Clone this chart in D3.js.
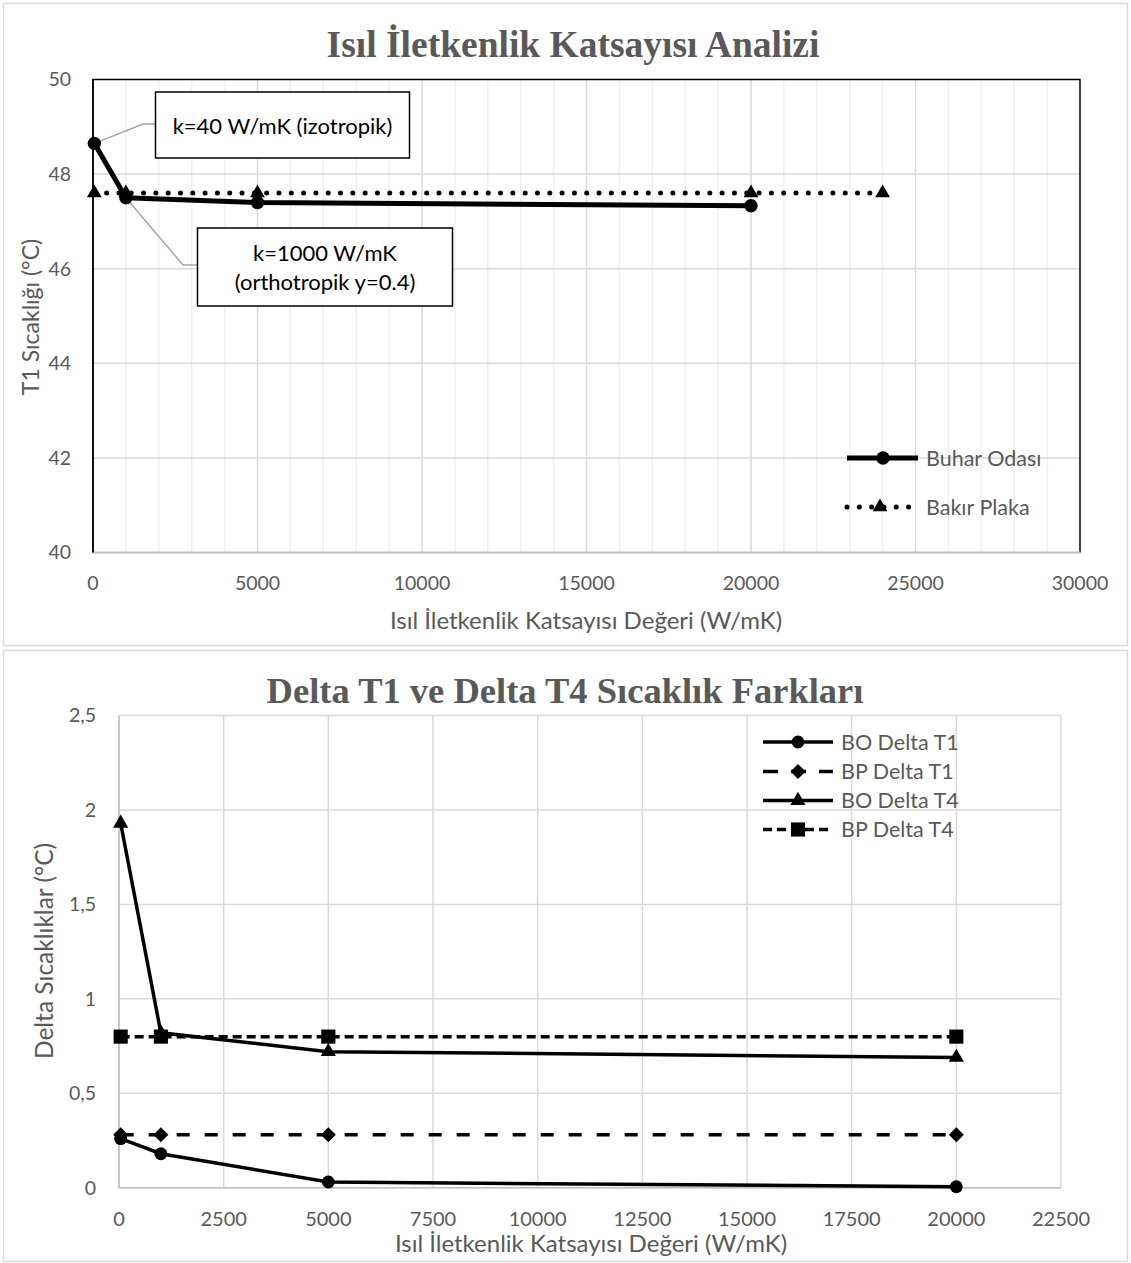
<!DOCTYPE html>
<html><head><meta charset="utf-8">
<script src="https://cdn.jsdelivr.net/npm/d3@7"></script>
<style>body{margin:0;background:#fff}</style>
</head><body>
<svg id="c" width="1131" height="1263" xmlns="http://www.w3.org/2000/svg"></svg>
<script>
// ---------- DATA ----------
const topTitle = "Isıl İletkenlik Katsayısı Analizi";
const topYTitle = "T1 Sıcaklığı (°C)";
const topXTitle = "Isıl İletkenlik Katsayısı Değeri (W/mK)";
const topXTicks = [0, 5000, 10000, 15000, 20000, 25000, 30000];
const topYTicks = [40, 42, 44, 46, 48, 50];
const buharX = [40, 1000, 5000, 20000];
const buharOdasi = [48.65, 47.5, 47.4, 47.33];
const bakirX = [40, 1000, 5000, 20000, 24000];
const bakirPlaka = [47.6, 47.6, 47.6, 47.6, 47.6];
const topSeriesNames = ["Buhar Odası", "Bakır Plaka"];
const annot1 = ["k=40 W/mK (izotropik)"];
const annot2 = ["k=1000 W/mK", "(orthotropik y=0.4)"];

const botTitle = "Delta T1 ve Delta T4 Sıcaklık Farkları";
const botYTitle = "Delta Sıcaklıklar (°C)";
const botXTitle = "Isıl İletkenlik Katsayısı Değeri (W/mK)";
const botXTicks = [0, 2500, 5000, 7500, 10000, 12500, 15000, 17500, 20000, 22500];
const botYTicks = [0, 0.5, 1, 1.5, 2, 2.5];
const botX = [40, 1000, 5000, 20000];
const boDeltaT1 = [0.26, 0.18, 0.03, 0.005];
const bpDeltaT1 = [0.28, 0.28, 0.28, 0.28];
const boDeltaT4 = [1.93, 0.82, 0.72, 0.69];
const bpDeltaT4 = [0.8, 0.8, 0.8, 0.8];
const botSeriesNames = ["BO Delta T1", "BP Delta T1", "BO Delta T4", "BP Delta T4"];

// ---------- SETUP ----------
const svg = d3.select("#c");
const SANS = "Lato, 'Open Sans', sans-serif";
const SERIF = "'Liberation Serif', 'DejaVu Serif', serif";
const GRAY_TXT = "#595959";
const trLocale = d3.formatLocale({decimal: ",", thousands: "", grouping: [3], currency: ["", ""]});
const fmtDec = trLocale.format("~g");
const TICK_FS = 19.5;

// outer frames
svg.append("rect").attr("x", 3.5).attr("y", 3.5).attr("width", 1124).attr("height", 642)
  .attr("fill", "#fff").attr("stroke", "#d9d9d9").attr("stroke-width", 1.5);
svg.append("rect").attr("x", 3.5).attr("y", 650.5).attr("width", 1124).attr("height", 611)
  .attr("fill", "#fff").attr("stroke", "#d9d9d9").attr("stroke-width", 1.5);

function sym(type, size) { return d3.symbol().type(type).size(size)(); }
const diamondPath = (r) => `M0,${-r}L${r},0L0,${r}L${-r},0Z`;

// ---------- TOP CHART ----------
(function(){
  const L = 93, R = 1080, T = 79.5, B = 552.5;
  const x = d3.scaleLinear().domain([0, 30000]).range([L, R]);
  const y = d3.scaleLinear().domain([40, 50]).range([B, T]);
  const g = svg.append("g");

  g.append("g").selectAll("line").data(d3.range(0, 30001, 1000).filter(v => v % 5000 !== 0))
    .join("line").attr("x1", d => x(d)).attr("x2", d => x(d)).attr("y1", T).attr("y2", B)
    .attr("stroke", "#f0f0f0").attr("stroke-width", 1.5);
  g.append("g").selectAll("line").data(topXTicks.slice(1, -1))
    .join("line").attr("x1", d => x(d)).attr("x2", d => x(d)).attr("y1", T).attr("y2", B)
    .attr("stroke", "#d9d9d9").attr("stroke-width", 1.5);
  g.append("g").selectAll("line").data(topYTicks.slice(1, -1))
    .join("line").attr("x1", L).attr("x2", R).attr("y1", d => y(d)).attr("y2", d => y(d))
    .attr("stroke", "#d9d9d9").attr("stroke-width", 1.5);
  g.append("path").attr("d", `M${L},${B}V${T}H${R}V${B}`).attr("fill", "none")
    .attr("stroke", "#000").attr("stroke-width", 1.5);
  g.append("line").attr("x1", L).attr("x2", R).attr("y1", B).attr("y2", B)
    .attr("stroke", "#bfbfbf").attr("stroke-width", 2);
  g.append("line").attr("x1", L).attr("x2", L).attr("y1", T).attr("y2", B)
    .attr("stroke", "#000").attr("stroke-width", 1.5);

  g.append("g").selectAll("text").data(topYTicks).join("text")
    .attr("x", L - 22).attr("y", d => y(d)).attr("dy", "0.35em").attr("text-anchor", "end")
    .attr("font-family", SANS).attr("font-size", TICK_FS).attr("fill", GRAY_TXT).text(d => d);
  g.append("g").selectAll("text").data(topXTicks).join("text")
    .attr("x", d => x(d)).attr("y", 583).attr("dy", "0.35em").attr("text-anchor", "middle")
    .attr("font-family", SANS).attr("font-size", TICK_FS).attr("fill", GRAY_TXT).text(d => d);

  svg.append("text").attr("x", 573).attr("y", 57).attr("text-anchor", "middle")
    .attr("font-family", SERIF).attr("font-weight", "bold").attr("font-size", 37.5)
    .attr("fill", GRAY_TXT).text(topTitle);
  svg.append("text").attr("x", 586).attr("y", 621).attr("dy", "0.35em").attr("text-anchor", "middle")
    .attr("font-family", SANS).attr("font-size", 24).attr("fill", GRAY_TXT).text(topXTitle);
  svg.append("text").attr("transform", "translate(31,317) rotate(-90)").attr("dy", "0.35em")
    .attr("text-anchor", "middle").attr("font-family", SANS).attr("font-size", 23)
    .attr("fill", GRAY_TXT).text(topYTitle);

  const bk = bakirX.map((v, i) => [v, bakirPlaka[i]]);
  const bo = buharX.map((v, i) => [v, buharOdasi[i]]);
  const line = d3.line().x(d => x(d[0])).y(d => y(d[1]));

  g.append("path").attr("d", `M${x(bo[0][0])},${y(bo[0][1])}L143,124H155`)
    .attr("fill", "none").attr("stroke", "#a6a6a6").attr("stroke-width", 1.5);
  g.append("path").attr("d", `M${x(bo[1][0])},${y(bo[1][1])}L183,265H197`)
    .attr("fill", "none").attr("stroke", "#a6a6a6").attr("stroke-width", 1.5);

  g.append("path").datum(bo).attr("d", line).attr("fill", "none").attr("stroke", "#000")
    .attr("stroke-width", 5).attr("stroke-linejoin", "round");
  g.append("path").datum(bk).attr("d", line).attr("fill", "none").attr("stroke", "#000")
    .attr("stroke-width", 5).attr("stroke-linecap", "round").attr("stroke-dasharray", "0.01 12.3");
  g.append("g").selectAll("path").data(bo).join("path")
    .attr("transform", d => `translate(${x(d[0])},${y(d[1])})`).attr("d", sym(d3.symbolCircle, 140));
  g.append("g").selectAll("path").data(bk).join("path")
    .attr("transform", d => `translate(${x(d[0])},${y(d[1])})`).attr("d", sym(d3.symbolTriangle, 95));

  function box(x0, y0, w, h, lines, cy, lh) {
    g.append("rect").attr("x", x0).attr("y", y0).attr("width", w).attr("height", h)
      .attr("fill", "#fff").attr("stroke", "#000").attr("stroke-width", 1.5);
    lines.forEach((t, i) => g.append("text").attr("x", x0 + w / 2).attr("y", cy + i * lh)
      .attr("dy", "0.35em").attr("text-anchor", "middle").attr("font-family", SANS)
      .attr("font-size", 22).attr("fill", "#000").text(t));
  }
  box(155.5, 92, 254, 66, annot1, 126, 0);
  box(197.5, 228, 255, 78, annot2, 253, 29);

  const lg = g.append("g");
  lg.append("line").attr("x1", 847).attr("x2", 918).attr("y1", 458).attr("y2", 458)
    .attr("stroke", "#000").attr("stroke-width", 5);
  lg.append("path").attr("transform", "translate(883,458)").attr("d", sym(d3.symbolCircle, 140));
  lg.append("line").attr("x1", 847).attr("x2", 918).attr("y1", 507).attr("y2", 507)
    .attr("stroke", "#000").attr("stroke-width", 5).attr("stroke-linecap", "round")
    .attr("stroke-dasharray", "0.01 12.3");
  lg.append("path").attr("transform", "translate(880,507)").attr("d", sym(d3.symbolTriangle, 95));
  [[458, topSeriesNames[0]], [507, topSeriesNames[1]]].forEach(([yy, t]) =>
    lg.append("text").attr("x", 926).attr("y", yy).attr("dy", "0.35em").attr("font-family", SANS)
      .attr("font-size", 21.5).attr("fill", GRAY_TXT).text(t));
})();

// ---------- BOTTOM CHART ----------
(function(){
  const L = 119, R = 1061, T = 715.6, B = 1187.7;
  const x = d3.scaleLinear().domain([0, 22500]).range([L, R]);
  const y = d3.scaleLinear().domain([0, 2.5]).range([B, T]);
  const g = svg.append("g");

  g.append("g").selectAll("line").data(botXTicks)
    .join("line").attr("x1", d => x(d)).attr("x2", d => x(d)).attr("y1", T).attr("y2", B)
    .attr("stroke", "#d9d9d9").attr("stroke-width", 1.5);
  g.append("g").selectAll("line").data(botYTicks)
    .join("line").attr("x1", L).attr("x2", R).attr("y1", d => y(d)).attr("y2", d => y(d))
    .attr("stroke", "#d9d9d9").attr("stroke-width", 1.5);
  g.append("line").attr("x1", L).attr("x2", L).attr("y1", T).attr("y2", B)
    .attr("stroke", "#bfbfbf").attr("stroke-width", 1.5);
  g.append("line").attr("x1", L).attr("x2", R).attr("y1", B).attr("y2", B)
    .attr("stroke", "#bfbfbf").attr("stroke-width", 1.5);

  g.append("g").selectAll("text").data(botYTicks).join("text")
    .attr("x", L - 23).attr("y", d => y(d)).attr("dy", "0.35em").attr("text-anchor", "end")
    .attr("font-family", SANS).attr("font-size", TICK_FS).attr("fill", GRAY_TXT).text(d => fmtDec(d));
  g.append("g").selectAll("text").data(botXTicks).join("text")
    .attr("x", d => x(d)).attr("y", 1219).attr("dy", "0.35em").attr("text-anchor", "middle")
    .attr("font-family", SANS).attr("font-size", TICK_FS + 0.5).attr("fill", GRAY_TXT).text(d => d);

  svg.append("text").attr("x", 565).attr("y", 703).attr("text-anchor", "middle")
    .attr("font-family", SERIF).attr("font-weight", "bold").attr("font-size", 36.5)
    .attr("fill", GRAY_TXT).text(botTitle);
  svg.append("text").attr("x", 591).attr("y", 1244).attr("dy", "0.35em").attr("text-anchor", "middle")
    .attr("font-family", SANS).attr("font-size", 24).attr("fill", GRAY_TXT).text(botXTitle);
  svg.append("text").attr("transform", "translate(44,951) rotate(-90)").attr("dy", "0.35em")
    .attr("text-anchor", "middle").attr("font-family", SANS).attr("font-size", 24.5)
    .attr("fill", GRAY_TXT).text(botYTitle);

  const line = d3.line().x(d => x(d[0])).y(d => y(d[1]));
  const series = [
    {vals: boDeltaT1, dash: null, path: sym(d3.symbolCircle, 130)},
    {vals: bpDeltaT1, dash: "13 15", path: diamondPath(7.5)},
    {vals: boDeltaT4, dash: null, path: sym(d3.symbolTriangle, 100)},
    {vals: bpDeltaT4, dash: "9 5", path: sym(d3.symbolSquare, 200)}
  ];
  series.forEach(s => {
    const pts = botX.map((v, i) => [v, s.vals[i]]);
    g.append("path").datum(pts).attr("d", line).attr("fill", "none").attr("stroke", "#000")
      .attr("stroke-width", 3.5).attr("stroke-dasharray", s.dash);
  });
  series.forEach(s => {
    const pts = botX.map((v, i) => [v, s.vals[i]]);
    g.append("g").selectAll("path").data(pts).join("path")
      .attr("transform", d => `translate(${x(d[0])},${y(d[1])})`).attr("d", s.path);
  });

  const ly = [742, 771.5, 800.5, 829.5];
  series.forEach((s, i) => {
    g.append("line").attr("x1", 763).attr("x2", 833).attr("y1", ly[i]).attr("y2", ly[i])
      .attr("stroke", "#000").attr("stroke-width", 3.5)
      .attr("stroke-dasharray", s.dash ? (i === 1 ? "15 13" : "9 5") : null);
    g.append("path").attr("transform", `translate(798,${ly[i]})`).attr("d", s.path);
    g.append("text").attr("x", 841).attr("y", ly[i]).attr("dy", "0.35em").attr("font-family", SANS)
      .attr("font-size", 21.5).attr("fill", GRAY_TXT).text(botSeriesNames[i]);
  });
})();
</script>
</body></html>
